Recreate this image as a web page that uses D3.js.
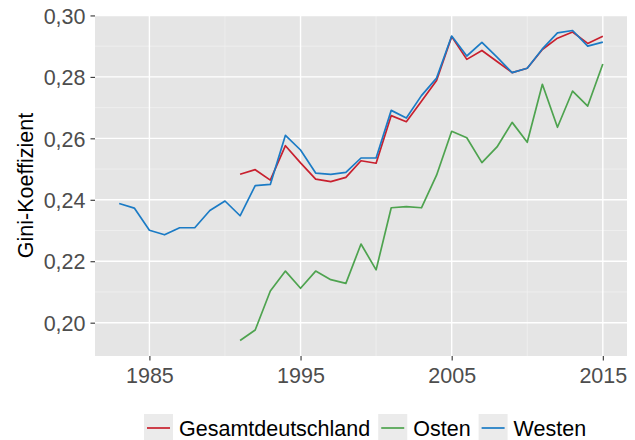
<!DOCTYPE html>
<html>
<head>
<meta charset="utf-8">
<script src="https://cdn.jsdelivr.net/npm/d3@7"></script>
<style>
  body { margin: 0; background: #fff; }
  svg text { font-family: "Liberation Sans", Arial, sans-serif; }
</style>
</head>
<body>
<div id="chart"></div>
<script>
// data
const yearsWest = d3.range(1983, 2016);
const yearsUnified = d3.range(1991, 2016);

const westen = [0.2388, 0.2373, 0.2301, 0.2286, 0.2309, 0.2309, 0.2365, 0.2396, 0.2348, 0.2446, 0.2450,
  0.2610, 0.2562, 0.2487, 0.2483, 0.2489, 0.2536, 0.2536, 0.2691, 0.2666, 0.2739, 0.2796,
  0.2933, 0.2868, 0.2912, 0.2864, 0.2814, 0.2828, 0.2891, 0.2943, 0.2951, 0.2900, 0.2913];
const gesamt = [0.2483, 0.2498, 0.2464, 0.2576, 0.2520, 0.2467, 0.2459, 0.2473, 0.2527, 0.2519,
  0.2674, 0.2654, 0.2721, 0.2788, 0.2931, 0.2857, 0.2886, 0.2850, 0.2814, 0.2828,
  0.2889, 0.2926, 0.2946, 0.2909, 0.2932];
const osten = [0.1942, 0.1976, 0.2103, 0.2168, 0.2112, 0.2168, 0.2140, 0.2128, 0.2256, 0.2172,
  0.2374, 0.2378, 0.2374, 0.2480, 0.2623, 0.2602, 0.2521, 0.2572, 0.2652, 0.2587,
  0.2776, 0.2636, 0.2754, 0.2705, 0.2842];

const xTicks = [1985, 1995, 2005, 2015];
const xMinor = [1990, 2000, 2010];
const yTicks = [0.20, 0.22, 0.24, 0.26, 0.28, 0.30];
const yMinor = [0.21, 0.23, 0.25, 0.27, 0.29];

const seriesNames = ["Gesamtdeutschland", "Osten", "Westen"];
const seriesColors = ["#C8202E", "#4EA34F", "#1B7BC5"];

const series = [
  { name: "Gesamtdeutschland", years: yearsUnified, values: gesamt },
  { name: "Osten", years: yearsUnified, values: osten },
  { name: "Westen", years: yearsWest, values: westen }
];

const W = 635, H = 440;
const panel = { left: 95, right: 627, top: 15, bottom: 356 };
const fs = "21.5px";

const svg = d3.select("#chart").append("svg")
  .attr("width", W)
  .attr("height", H);

// ggplot style 5% expansion
const xr = [1983, 2015], xe = (xr[1] - xr[0]) * 0.05;
const x = d3.scaleLinear().domain([xr[0] - xe, xr[1] + xe]).range([panel.left, panel.right]);
const allVals = westen.concat(gesamt, osten);
const yr = d3.extent(allVals), ye = (yr[1] - yr[0]) * 0.05;
const y = d3.scaleLinear().domain([yr[0] - ye, yr[1] + ye]).range([panel.bottom, panel.top]);

const color = d3.scaleOrdinal().domain(seriesNames).range(seriesColors);

svg.append("rect")
  .attr("x", panel.left).attr("y", panel.top)
  .attr("width", panel.right - panel.left).attr("height", panel.bottom - panel.top)
  .attr("fill", "#E5E5E5");

const grid = svg.append("g");
grid.selectAll(".ymin").data(yMinor).enter().append("line")
  .attr("x1", panel.left).attr("x2", panel.right)
  .attr("y1", d => y(d)).attr("y2", d => y(d))
  .attr("stroke", "#F2F2F2").attr("stroke-width", 0.7);
grid.selectAll(".xmin").data(xMinor).enter().append("line")
  .attr("y1", panel.top).attr("y2", panel.bottom)
  .attr("x1", d => x(d)).attr("x2", d => x(d))
  .attr("stroke", "#F2F2F2").attr("stroke-width", 0.7);
grid.selectAll(".ymaj").data(yTicks).enter().append("line")
  .attr("x1", panel.left).attr("x2", panel.right)
  .attr("y1", d => y(d)).attr("y2", d => y(d))
  .attr("stroke", "#fff").attr("stroke-width", 1.4);
grid.selectAll(".xmaj").data(xTicks).enter().append("line")
  .attr("y1", panel.top).attr("y2", panel.bottom)
  .attr("x1", d => x(d)).attr("x2", d => x(d))
  .attr("stroke", "#fff").attr("stroke-width", 1.4);

// axes
const fmt = d => d3.format(".2f")(d).replace(".", ",");
const xAxis = svg.append("g")
  .attr("transform", `translate(0,${panel.bottom})`)
  .call(d3.axisBottom(x).tickValues(xTicks).tickFormat(d3.format("d")).tickSize(4.5).tickPadding(4));
const yAxis = svg.append("g")
  .attr("transform", `translate(${panel.left},0)`)
  .call(d3.axisLeft(y).tickValues(yTicks).tickFormat(fmt).tickSize(4.5).tickPadding(5));
[xAxis, yAxis].forEach(a => {
  a.select(".domain").remove();
  a.selectAll(".tick line").attr("stroke", "#333").attr("stroke-width", 1.1);
  a.selectAll(".tick text").attr("fill", "#4D4D4D").style("font-size", fs);
});
xAxis.selectAll(".tick text").attr("dy", "0.85em");
yAxis.selectAll(".tick text").attr("dy", "0.36em");

svg.append("text")
  .attr("transform", `translate(33,${(panel.top + panel.bottom) / 2}) rotate(-90)`)
  .attr("text-anchor", "middle")
  .style("font-size", fs)
  .attr("fill", "#000")
  .text("Gini-Koeffizient");

// lines
const line = d3.line()
  .x(d => x(d[0]))
  .y(d => y(d[1]));

svg.append("g").selectAll("path").data(series).enter().append("path")
  .attr("d", s => line(s.years.map((yy, i) => [yy, s.values[i]])))
  .attr("fill", "none")
  .attr("stroke", s => color(s.name))
  .attr("stroke-width", 1.7)
  .attr("stroke-linejoin", "round");

// legend
const legend = svg.append("g");
let lx = 144;
seriesNames.forEach(name => {
  const g = legend.append("g").attr("transform", `translate(${lx},414)`);
  g.append("rect").attr("width", 29).attr("height", 26).attr("fill", "#EBEBEB");
  g.append("line").attr("x1", 3).attr("x2", 26).attr("y1", 14).attr("y2", 14)
    .attr("stroke", color(name)).attr("stroke-width", 1.7);
  const t = g.append("text").attr("x", 35).attr("y", 21.5)
    .style("font-size", fs).attr("fill", "#000").text(name);
  lx += 35 + t.node().getComputedTextLength() + 8;
});
</script>
</body>
</html>
